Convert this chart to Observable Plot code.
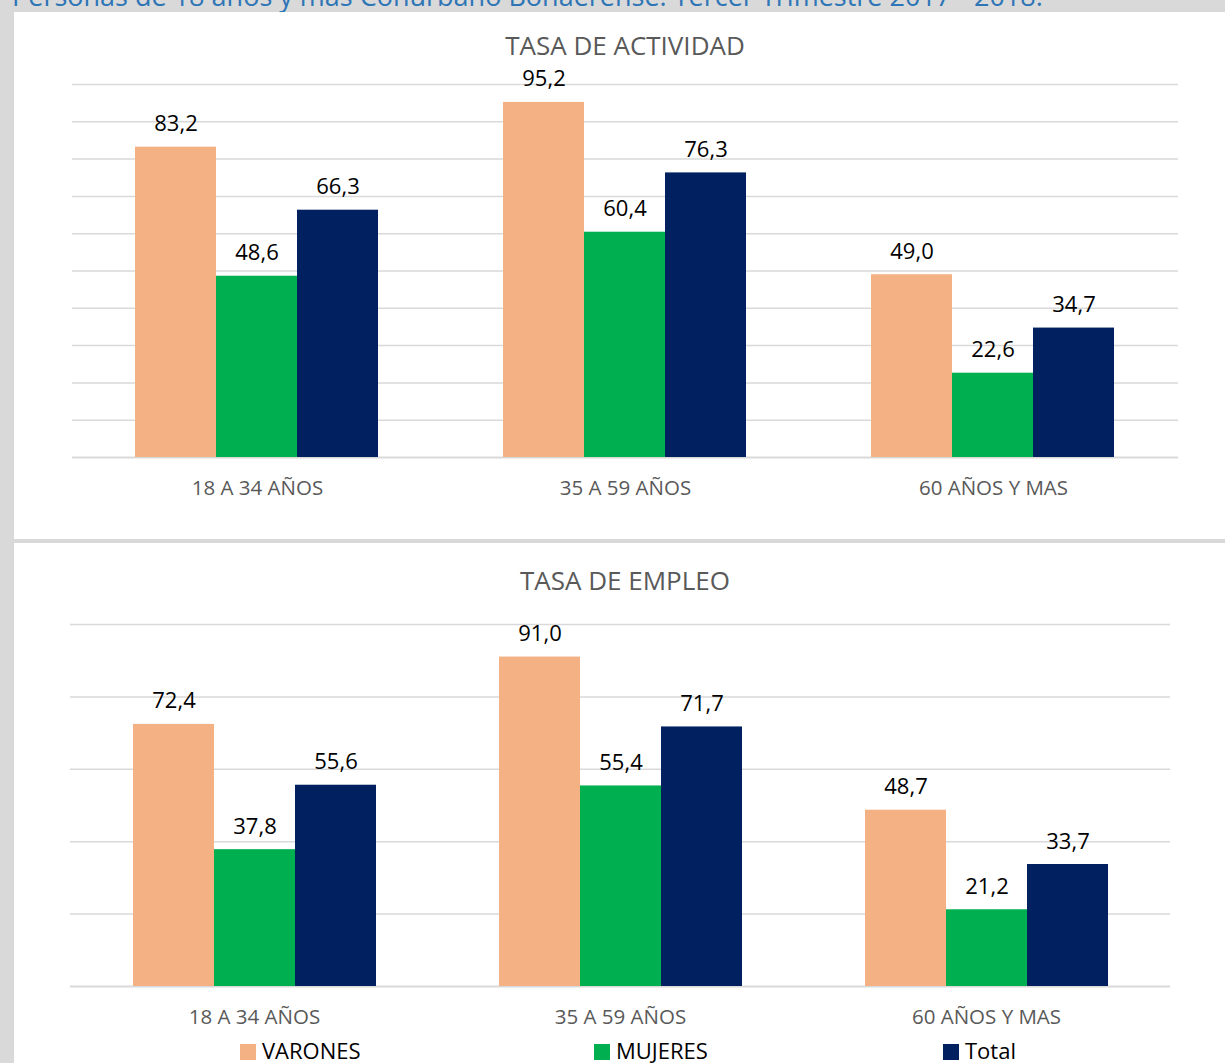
<!DOCTYPE html>
<html>
<head>
<meta charset="utf-8">
<script src="https://cdn.jsdelivr.net/npm/d3@7"></script>
<script src="https://cdn.jsdelivr.net/npm/@observablehq/plot@0.6"></script>
<style>
  html, body { margin: 0; padding: 0; }
  body { width: 1225px; height: 1063px; overflow: hidden; background: #d9d9d9; position: relative; font-family: "Open Sans", "Noto Sans", sans-serif; }
  .panel { position: absolute; background: #fff; }
  .title { position: absolute; left: 0; width: 1250px; text-align: center; color: #595959; font-size: 26px; line-height: 20px; }
  .abs { position: absolute; }
  #top { position: absolute; left: 12px; top: -18px; font-size: 27px; color: #2e75b6; white-space: nowrap; line-height: 27px; }
  .leg { position: absolute; top: 1036px; font-size: 22px; color: #000; line-height: 28px; white-space: nowrap; }
  .leg span.sw { display: inline-block; width: 16px; height: 16px; margin-right: 6px; vertical-align: -1px; }
</style>
</head>
<body>
<div id="top">Personas de 18 años y más Conurbano Bonaerense. Tercer Trimestre 2017 - 2018.</div>
<div class="panel" style="left:14px; top:12px; width:1211px; height:527px;"></div>
<div class="panel" style="left:14px; top:543px; width:1211px; height:520px;"></div>
<div class="title" id="t1" style="top:35px;">TASA DE ACTIVIDAD</div>
<div class="title" id="t2" style="top:570px;">TASA DE EMPLEO</div>
<div id="g1" class="abs" style="left:0; top:0;"></div>
<div id="c1" class="abs" style="left:0; top:0;"></div>
<div id="g2" class="abs" style="left:0; top:543px;"></div>
<div id="c2" class="abs" style="left:0; top:543px;"></div>
<div id="legend"></div>
<script>
const groups = ["18 A 34 AÑOS", "35 A 59 AÑOS", "60 AÑOS Y MAS"];
const series = ["VARONES", "MUJERES", "Total"];
const colors = ["#f4b183", "#00b050", "#002060"];
const actividadVarones = [83.2, 95.2, 49.0];
const actividadMujeres = [48.6, 60.4, 22.6];
const actividadTotal = [66.3, 76.3, 34.7];
const empleoVarones = [72.4, 91.0, 48.7];
const empleoMujeres = [37.8, 55.4, 21.2];
const empleoTotal = [55.6, 71.7, 33.7];
const actividadTicks = d3.range(0, 101, 10);
const empleoTicks = d3.range(0, 101, 20);

function rows(v, m, t) {
  const out = [];
  groups.forEach((g, i) => {
    out.push({group: g, series: series[0], value: v[i]});
    out.push({group: g, series: series[1], value: m[i]});
    out.push({group: g, series: series[2], value: t[i]});
  });
  return out;
}
const fmt = d => d.toFixed(1).replace(".", ",");
const font = "'Open Sans', 'Noto Sans', sans-serif";

function common(opts) {
  return {
    width: 1225,
    height: opts.height,
    marginLeft: opts.ml, marginRight: opts.mr, marginTop: opts.mt, marginBottom: opts.mb,
    style: {background: "transparent", fontFamily: font, overflow: "visible"},
    y: {domain: [0, 100], axis: null}
  };
}

// Background layer: gridlines across the whole plot width + category labels
function gridChart(ticks, opts) {
  return Plot.plot({
    ...common(opts),
    x: {domain: groups, paddingInner: 1/3, paddingOuter: 1/6, axis: null},
    marks: [
      Plot.ruleY(ticks.filter(t => t > 0), {y: d => d, stroke: "#d9d9d9", strokeWidth: 1.5}),
      Plot.ruleY([0], {stroke: "#d9d9d9", strokeWidth: 2}),
      Plot.axisX({anchor: "bottom", tickSize: 0, tickPadding: 23, fontSize: 20.5, color: "#595959", label: null})
    ]
  });
}

// Foreground layer: grouped bars with value labels
function barChart(data, opts) {
  return Plot.plot({
    ...common(opts),
    fx: {domain: groups, paddingInner: 1/3, paddingOuter: 1/6, axis: null, label: null},
    x: {domain: series, padding: 0, axis: null},
    color: {domain: series, range: colors},
    marks: [
      Plot.barY(data, {fx: "group", x: "series", y: "value", fill: "series"}),
      Plot.text(data, {fx: "group", x: "series", y: "value", text: d => fmt(d.value), lineAnchor: "bottom", dy: -16, fontSize: 22, fill: "#000"})
    ]
  });
}

const o1 = {height: 530, ml: 72, mr: 47, mt: 84, mb: 73};
const o2 = {height: 520, ml: 70, mr: 55, mt: 81, mb: 77};
document.getElementById("g1").appendChild(gridChart(actividadTicks, o1));
document.getElementById("c1").appendChild(barChart(rows(actividadVarones, actividadMujeres, actividadTotal), o1));
document.getElementById("g2").appendChild(gridChart(empleoTicks, o2));
document.getElementById("c2").appendChild(barChart(rows(empleoVarones, empleoMujeres, empleoTotal), o2));

const legX = [240, 594, 943];
const leg = document.getElementById("legend");
series.forEach((s, i) => {
  const d = document.createElement("div");
  d.className = "leg";
  d.style.left = legX[i] + "px";
  d.innerHTML = `<span class="sw" style="background:${colors[i]}"></span>${s}`;
  leg.appendChild(d);
});
</script>
</body>
</html>
